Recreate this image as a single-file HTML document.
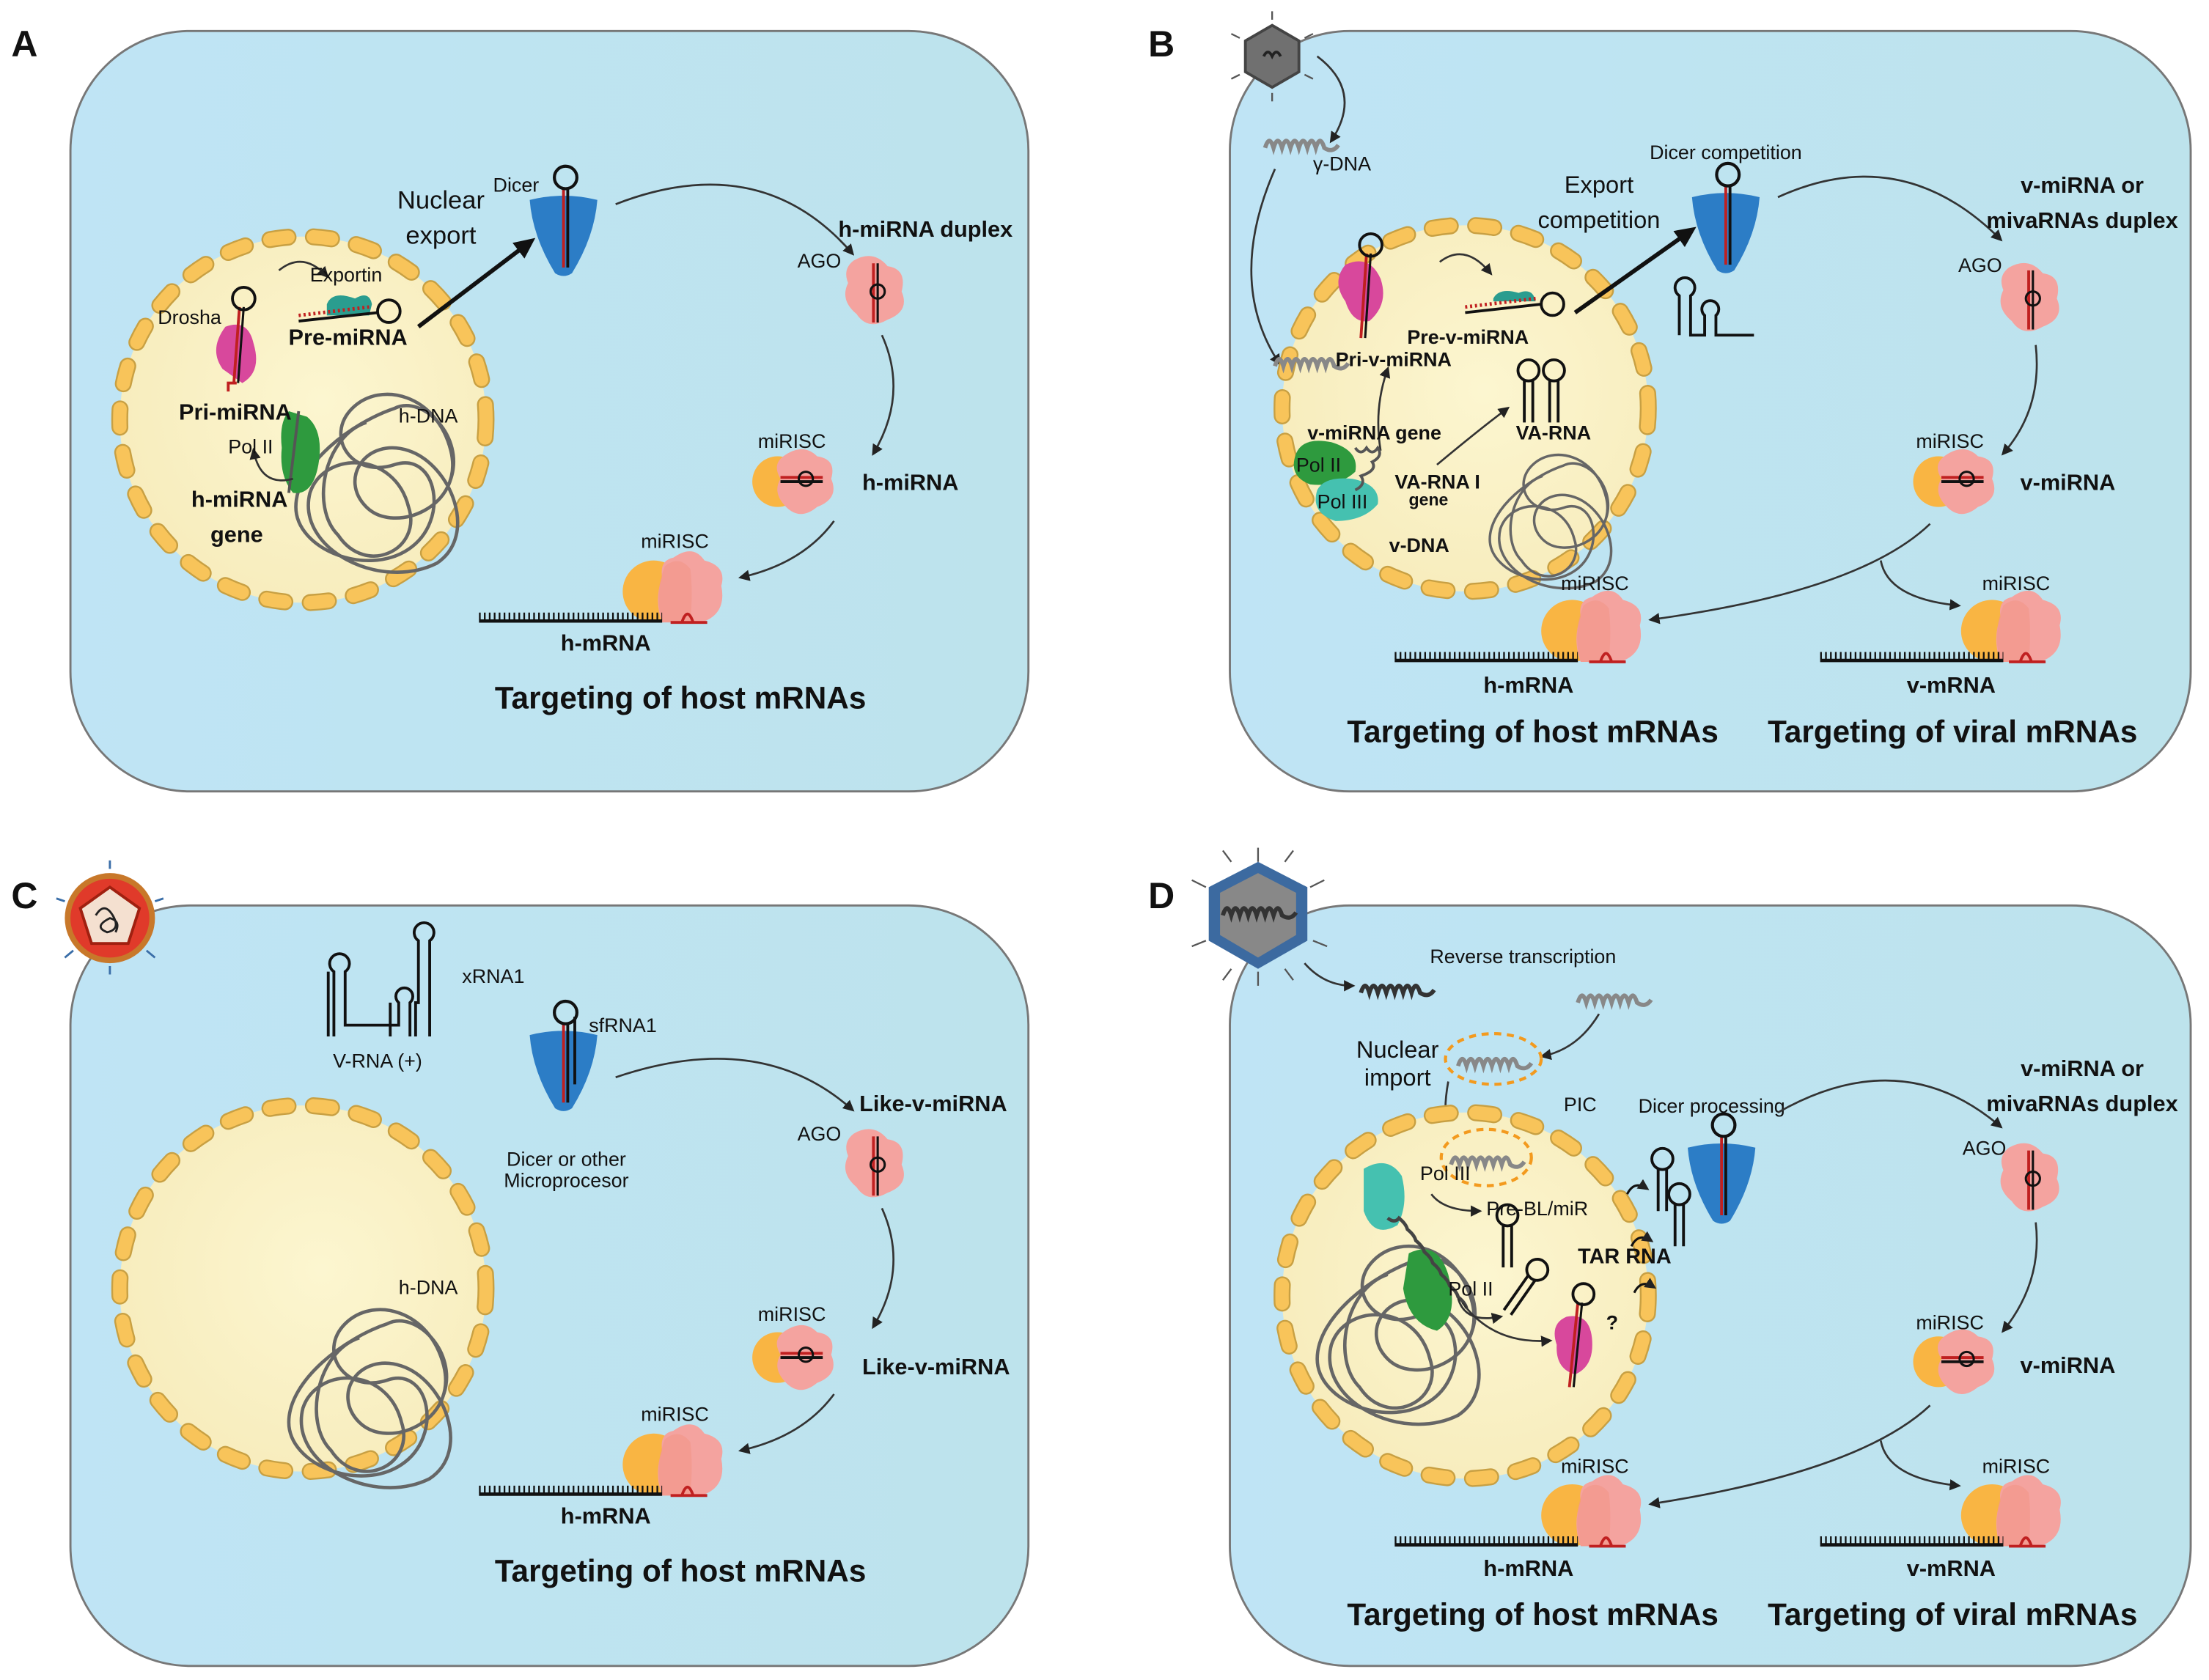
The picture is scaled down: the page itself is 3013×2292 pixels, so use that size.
<!DOCTYPE html>
<html><head><meta charset="utf-8"><style>
html,body{margin:0;padding:0;background:#fff;}
svg{display:block;}
text{font-family:"Liberation Sans",sans-serif;fill:#111;}
.b{font-weight:bold;}
</style></head><body>
<svg width="3013" height="2292" viewBox="0 0 1568 1193" preserveAspectRatio="none" xmlns="http://www.w3.org/2000/svg">
<defs>
<linearGradient id="bg" x1="0" y1="0" x2="1" y2="0"><stop offset="0" stop-color="#bfe4f5"/><stop offset="1" stop-color="#bde3ec"/></linearGradient>
<radialGradient id="nuc" cx="0.55" cy="0.45" r="0.6"><stop offset="0" stop-color="#fcf6d0"/><stop offset="1" stop-color="#f7ecbc"/></radialGradient>
<marker id="ar" markerWidth="8" markerHeight="8" refX="6" refY="4" orient="auto" markerUnits="userSpaceOnUse"><path d="M0,0 L8,4 L0,8 Z" fill="#222"/></marker>
<marker id="arB" markerWidth="16" markerHeight="16" refX="10" refY="8" orient="auto" markerUnits="userSpaceOnUse"><path d="M0,1 L15,8 L0,15 Z" fill="#111"/></marker>
<g id="nucleus">
 <circle r="130" fill="url(#nuc)"/>
 <circle r="130" fill="none" stroke="#c8a043" stroke-width="12" stroke-dasharray="13 18" stroke-linecap="round"/>
 <circle r="130" fill="none" stroke="#f8c45a" stroke-width="9.5" stroke-dasharray="13 18" stroke-linecap="round"/>
</g>
<g id="dicer">
 <path d="M-24,-20 Q0,-26 24,-20 Q22,6 6,32 Q0,36 -6,32 Q-22,6 -24,-20Z" fill="#2c7dc6"/>
 <line x1="0" y1="-28" x2="0" y2="28" stroke="#c02020" stroke-width="2"/>
 <line x1="3" y1="-28" x2="3" y2="28" stroke="#111" stroke-width="2"/>
 <circle cx="1.5" cy="-36" r="8" fill="none" stroke="#111" stroke-width="2.2"/>
</g>
<g id="ago">
 <path d="M-14,-20 Q0,-28 10,-16 Q24,-14 20,2 Q26,16 10,22 Q-4,30 -12,18 Q-24,8 -18,-4 Q-22,-14 -14,-20Z" fill="#f4a39f"/>
 <line x1="0" y1="-18" x2="0" y2="24" stroke="#c02020" stroke-width="2"/>
 <line x1="3" y1="-18" x2="3" y2="24" stroke="#111" stroke-width="1.6"/>
 <circle cx="3" cy="2" r="5" fill="none" stroke="#111" stroke-width="1.6"/>
</g>
<g id="risc">
 <circle cx="-12" cy="2" r="18" fill="#f9b543"/>
 <path d="M-8,-16 Q6,-26 16,-16 Q30,-14 26,0 Q32,14 16,20 Q4,30 -6,20 Q-16,10 -10,0 Q-16,-10 -8,-16Z" fill="#f4a39f"/>
 <line x1="-10" y1="2" x2="20" y2="2" stroke="#111" stroke-width="2"/>
 <line x1="-10" y1="-1" x2="20" y2="-1" stroke="#c02020" stroke-width="2"/>
 <circle cx="8" cy="0" r="5" fill="none" stroke="#111" stroke-width="1.6"/>
</g>
<g id="riscB">
 <circle cx="-14" cy="4" r="22" fill="#f9b543"/>
 <path d="M0,-20 Q14,-30 22,-18 Q38,-14 34,0 Q38,20 20,26 L-8,26 Q-14,10 -8,-6 Q-10,-18 0,-20Z" fill="#f4a39f"/>
 <path d="M-6,-14 Q4,-22 12,-12 Q14,4 12,26 L-8,26 Q-14,6 -6,-14Z" fill="#f29688" opacity="0.6"/>
 <line x1="-2" y1="26" x2="24" y2="26" stroke="#c02020" stroke-width="2"/>
 <path d="M6,26 Q10,14 14,26" fill="none" stroke="#c02020" stroke-width="2"/>
</g>
<g id="mrna">
 <line x1="0" y1="0" x2="130" y2="0" stroke="#111" stroke-width="2.4"/>
 <line x1="0" y1="-3.5" x2="130" y2="-3.5" stroke="#111" stroke-width="5" stroke-dasharray="1.2 2.3"/>
</g>
<g id="hp">
 <line x1="-3" y1="0" x2="-3" y2="-30" stroke="#111" stroke-width="2"/>
 <line x1="3" y1="0" x2="3" y2="-30" stroke="#111" stroke-width="2"/>
 <circle cx="0" cy="-37" r="7.5" fill="none" stroke="#111" stroke-width="2"/>
</g>
<g id="coil"><path d="M0,0 q3,-10 6,0 q3,-10 6,0 q3,-10 6,0 q3,-10 6,0 q3,-10 6,0 q3,-10 6,0 q3,-10 6,0 q6,4 10,-2" fill="none" stroke="#333" stroke-width="3"/></g>
<g id="coilG"><path d="M0,0 q3,-10 6,0 q3,-10 6,0 q3,-10 6,0 q3,-10 6,0 q3,-10 6,0 q3,-10 6,0 q3,-10 6,0 q6,4 10,-2" fill="none" stroke="#888" stroke-width="3"/></g>
<g id="dna">
 <path d="M0,0 C-30,10 -40,60 -20,80 C0,110 40,90 30,60 C20,20 -30,20 -40,50 C-50,90 10,120 50,100 C80,80 60,30 30,20 C0,10 -20,40 0,60 C20,80 70,60 60,20 C50,-20 10,-30 -10,-10 C-30,10 -10,40 20,30 C50,20 60,70 30,90 C0,110 -50,90 -50,60 C-50,30 -10,0 20,-10 C40,-20 70,10 60,40" fill="none" stroke="#666" stroke-width="2.4"/>
</g>
</defs>

<!-- Panels -->
<rect x="50" y="22" width="680" height="540" rx="85" fill="url(#bg)" stroke="#777" stroke-width="1.5"/>
<rect x="873" y="22" width="682" height="540" rx="85" fill="url(#bg)" stroke="#777" stroke-width="1.5"/>
<rect x="50" y="643" width="680" height="540" rx="85" fill="url(#bg)" stroke="#777" stroke-width="1.5"/>
<rect x="873" y="643" width="682" height="540" rx="85" fill="url(#bg)" stroke="#777" stroke-width="1.5"/>

<text x="8" y="40" class="b" font-size="26">A</text>
<text x="815" y="40" class="b" font-size="26">B</text>
<text x="8" y="645" class="b" font-size="26">C</text>
<text x="815" y="645" class="b" font-size="26">D</text>

<!-- ================= PANEL A ================= -->
<use href="#nucleus" x="215" y="298"/>
<use href="#dna" x="260" y="300"/>
<path d="M205,292 Q198,300 200,318 Q198,338 208,350 Q222,352 226,330 Q230,306 218,296 Z" fill="#2e9a3e"/>
<line x1="212" y1="292" x2="205" y2="350" stroke="#555" stroke-width="2"/>
<path d="M158,262 Q148,248 160,232 Q176,226 180,244 Q186,264 172,272 Z" fill="#d8489c"/>
<line x1="170" y1="218" x2="166" y2="272" stroke="#c02020" stroke-width="2"/>
<line x1="173" y1="218" x2="169" y2="272" stroke="#111" stroke-width="1.6"/>
<circle cx="173" cy="212" r="8" fill="none" stroke="#111" stroke-width="2"/>
<path d="M168,272 l-6,0 l0,6" fill="none" stroke="#c02020" stroke-width="2"/>
<path d="M232,216 Q236,206 252,212 Q262,206 264,216 L262,224 L232,224 Z" fill="#2a9d8f"/>
<line x1="212" y1="228" x2="268" y2="222" stroke="#111" stroke-width="2"/>
<line x1="212" y1="224" x2="262" y2="218" stroke="#c02020" stroke-width="2.5" stroke-dasharray="1.5 2"/>
<circle cx="276" cy="221" r="8" fill="none" stroke="#111" stroke-width="2"/>
<path d="M198,192 Q215,178 232,196" fill="none" stroke="#333" stroke-width="1.4" marker-end="url(#ar)"/>
<path d="M208,340 Q185,346 180,320" fill="none" stroke="#333" stroke-width="1.4" marker-end="url(#ar)"/>
<text x="112" y="230" font-size="14">Drosha</text>
<text x="220" y="200" font-size="14">Exportin</text>
<text x="247" y="245" text-anchor="middle" class="b" font-size="16">Pre-miRNA</text>
<text x="167" y="298" text-anchor="middle" class="b" font-size="16">Pri-miRNA</text>
<text x="162" y="322" font-size="14">Pol II</text>
<text x="170" y="360" text-anchor="middle" class="b" font-size="16">h-miRNA</text>
<text x="168" y="385" text-anchor="middle" class="b" font-size="16">gene</text>
<text x="283" y="300" font-size="14">h-DNA</text>
<line x1="297" y1="232" x2="376" y2="172" stroke="#111" stroke-width="3" marker-end="url(#arB)"/>
<text x="313" y="148" text-anchor="middle" font-size="18">Nuclear</text>
<text x="313" y="173" text-anchor="middle" font-size="18">export</text>
<use href="#dicer" x="400" y="162"/>
<text x="350" y="136" font-size="14">Dicer</text>
<path d="M437,145 Q540,105 605,180" fill="none" stroke="#333" stroke-width="1.4" marker-end="url(#ar)"/>
<text x="595" y="168" class="b" font-size="16">h-miRNA duplex</text>
<text x="566" y="190" font-size="14">AGO</text>
<use href="#ago" x="620" y="205"/>
<path d="M626,238 Q645,280 620,322" fill="none" stroke="#333" stroke-width="1.4" marker-end="url(#ar)"/>
<text x="538" y="318" font-size="14">miRISC</text>
<use href="#risc" x="564" y="340"/>
<text x="612" y="348" class="b" font-size="16">h-miRNA</text>
<path d="M592,370 Q570,400 526,410" fill="none" stroke="#333" stroke-width="1.4" marker-end="url(#ar)"/>
<text x="455" y="389" font-size="14">miRISC</text>
<use href="#riscB" x="478" y="416"/>
<use href="#mrna" x="340" y="441"/>
<text x="430" y="462" text-anchor="middle" class="b" font-size="16">h-mRNA</text>
<text x="483" y="503" text-anchor="middle" class="b" font-size="22">Targeting of host mRNAs</text>

<!-- ================= PANEL B ================= -->
<polygon points="903,18 922,29 922,51 903,62 884,51 884,29" fill="#707070" stroke="#444" stroke-width="2"/>
<g stroke="#555" stroke-width="1.2">
<line x1="903" y1="14" x2="903" y2="8"/><line x1="926" y1="27" x2="932" y2="24"/><line x1="926" y1="53" x2="932" y2="56"/><line x1="903" y1="66" x2="903" y2="72"/><line x1="880" y1="53" x2="874" y2="56"/><line x1="880" y1="27" x2="874" y2="24"/></g>
<path d="M897,40 q3,-6 6,0 q3,-6 6,0" fill="none" stroke="#222" stroke-width="2"/>
<path d="M935,40 Q968,65 945,100" fill="none" stroke="#333" stroke-width="1.4" marker-end="url(#ar)"/>
<use href="#coilG" x="898" y="105"/>
<text x="932" y="121" font-size="14">γ-DNA</text>
<path d="M905,120 Q870,200 908,258" fill="none" stroke="#333" stroke-width="1.4" marker-end="url(#ar)"/>
<use href="#nucleus" x="1040" y="290"/>
<use href="#coilG" x="905" y="260"/>
<g transform="translate(1095,338) scale(0.75)"><use href="#dna"/></g>
<path d="M955,214 Q945,200 955,188 Q972,180 980,198 Q986,216 972,228 Q960,230 955,214Z" fill="#d8489c"/>
<line x1="970" y1="180" x2="966" y2="240" stroke="#c02020" stroke-width="2"/>
<line x1="973" y1="180" x2="969" y2="240" stroke="#111" stroke-width="1.6"/>
<circle cx="973" cy="174" r="8" fill="none" stroke="#111" stroke-width="2"/>
<path d="M1060,212 Q1064,204 1078,208 Q1088,204 1090,214 L1060,214 Z" fill="#2a9d8f"/>
<line x1="1040" y1="222" x2="1094" y2="216" stroke="#111" stroke-width="2"/>
<line x1="1040" y1="218" x2="1090" y2="212" stroke="#c02020" stroke-width="2.5" stroke-dasharray="1.5 2"/>
<circle cx="1102" cy="216" r="8" fill="none" stroke="#111" stroke-width="2"/>
<path d="M1022,186 Q1040,172 1058,194" fill="none" stroke="#333" stroke-width="1.4" marker-end="url(#ar)"/>
<text x="1042" y="244" text-anchor="middle" class="b" font-size="14">Pre-v-miRNA</text>
<text x="948" y="260" class="b" font-size="14">Pri-v-miRNA</text>
<path d="M980,320 Q975,290 985,262" fill="none" stroke="#333" stroke-width="1.4" marker-end="url(#ar)"/>
<text x="928" y="312" class="b" font-size="14">v-miRNA gene</text>
<path d="M1020,330 Q1050,305 1070,290" fill="none" stroke="#333" stroke-width="1.4" marker-end="url(#ar)"/>
<use href="#hp" x="1085" y="300"/>
<use href="#hp" x="1103" y="300"/>
<text x="1076" y="312" class="b" font-size="14">VA-RNA</text>
<path d="M920,322 Q925,310 945,314 Q965,320 962,335 Q950,346 930,344 Q914,338 920,322Z" fill="#2e9a3e"/>
<text x="920" y="335" font-size="14">Pol II</text>
<path d="M935,348 Q940,338 960,340 Q980,344 978,358 Q968,370 948,370 Q930,364 935,348Z" fill="#45c1b0"/>
<text x="935" y="361" font-size="14">Pol III</text>
<path d="M962,318 q4,6 8,0 q4,6 8,0 q4,6 -4,10 q4,6 -8,10 q4,6 -4,10" fill="none" stroke="#555" stroke-width="2"/>
<text x="990" y="347" class="b" font-size="14">VA-RNA I</text>
<text x="1000" y="359" class="b" font-size="12">gene</text>
<text x="986" y="392" class="b" font-size="14">v-DNA</text>
<line x1="1118" y1="222" x2="1200" y2="164" stroke="#111" stroke-width="3" marker-end="url(#arB)"/>
<text x="1135" y="137" text-anchor="middle" font-size="17">Export</text>
<text x="1135" y="162" text-anchor="middle" font-size="17">competition</text>
<use href="#dicer" x="1225" y="160"/>
<text x="1225" y="113" text-anchor="middle" font-size="14">Dicer competition</text>
<path d="M1192,238 L1192,210 a7,7 0 1 1 8,0 L1200,238 L1210,238 L1210,224 a6,6 0 1 1 8,0 L1218,238 L1245,238" fill="none" stroke="#111" stroke-width="2"/>
<path d="M1262,140 Q1350,100 1420,170" fill="none" stroke="#333" stroke-width="1.4" marker-end="url(#ar)"/>
<text x="1478" y="137" text-anchor="middle" class="b" font-size="16">v-miRNA or</text>
<text x="1478" y="162" text-anchor="middle" class="b" font-size="16">mivaRNAs duplex</text>
<text x="1390" y="193" font-size="14">AGO</text>
<use href="#ago" x="1440" y="210"/>
<path d="M1445,245 Q1450,290 1422,322" fill="none" stroke="#333" stroke-width="1.4" marker-end="url(#ar)"/>
<text x="1360" y="318" font-size="14">miRISC</text>
<use href="#risc" x="1388" y="340"/>
<text x="1434" y="348" class="b" font-size="16">v-miRNA</text>
<path d="M1370,372 Q1320,420 1172,440" fill="none" stroke="#333" stroke-width="1.4" marker-end="url(#ar)"/>
<path d="M1335,398 Q1340,425 1390,430" fill="none" stroke="#333" stroke-width="1.4" marker-end="url(#ar)"/>
<text x="1108" y="419" font-size="14">miRISC</text>
<use href="#riscB" x="1130" y="444"/>
<use href="#mrna" x="990" y="469"/>
<text x="1085" y="492" text-anchor="middle" class="b" font-size="16">h-mRNA</text>
<text x="1407" y="419" font-size="14">miRISC</text>
<use href="#riscB" x="1428" y="444"/>
<use href="#mrna" x="1292" y="469"/>
<text x="1385" y="492" text-anchor="middle" class="b" font-size="16">v-mRNA</text>
<text x="1088" y="527" text-anchor="middle" class="b" font-size="22">Targeting of host mRNAs</text>
<text x="1386" y="527" text-anchor="middle" class="b" font-size="22">Targeting of viral mRNAs</text>

<!-- ================= PANEL C ================= -->
<g stroke="#3a6ea8" stroke-width="1.5"><line x1="78" y1="617" x2="78" y2="611"/><line x1="110" y1="640" x2="116" y2="638"/><line x1="104" y1="675" x2="110" y2="680"/><line x1="52" y1="675" x2="46" y2="680"/><line x1="46" y1="640" x2="40" y2="638"/><line x1="78" y1="686" x2="78" y2="692"/></g>
<circle cx="78" cy="652" r="32" fill="#c8782a"/>
<circle cx="78" cy="652" r="28" fill="#e03a2a"/>
<polygon points="78,630 99,645 91,670 65,670 57,645" fill="#f4e0d0" stroke="#a02010" stroke-width="2"/>
<path d="M68,650 q6,-10 12,0 q6,10 -4,12 q-10,-4 2,-10 q8,2 4,10" fill="none" stroke="#222" stroke-width="1.5"/>
<path d="M237,736 L237,690 a7,7 0 1 1 8,0 L245,728 L283,728 L283,712 a6,6 0 1 1 8,0 L291,736" fill="none" stroke="#111" stroke-width="2"/>
<path d="M233,736 L233,690 M277,736 L277,712 M295,736 L295,712 L297,712 L297,668 a7,7 0 1 1 8,0 L305,736" fill="none" stroke="#111" stroke-width="2"/>
<text x="328" y="698" font-size="14">xRNA1</text>
<text x="268" y="758" text-anchor="middle" font-size="14">V-RNA (+)</text>
<use href="#dicer" x="400" y="755"/>
<line x1="408" y1="722" x2="408" y2="770" stroke="#111" stroke-width="2"/>
<text x="418" y="733" font-size="14">sfRNA1</text>
<text x="402" y="828" text-anchor="middle" font-size="14">Dicer or other</text>
<text x="402" y="843" text-anchor="middle" font-size="14">Microprocesor</text>
<path d="M437,765 Q540,730 605,788" fill="none" stroke="#333" stroke-width="1.4" marker-end="url(#ar)"/>
<text x="610" y="789" class="b" font-size="16">Like-v-miRNA</text>
<text x="566" y="810" font-size="14">AGO</text>
<use href="#ago" x="620" y="825"/>
<path d="M626,858 Q645,900 620,942" fill="none" stroke="#333" stroke-width="1.4" marker-end="url(#ar)"/>
<text x="538" y="938" font-size="14">miRISC</text>
<use href="#risc" x="564" y="962"/>
<text x="612" y="976" class="b" font-size="16">Like-v-miRNA</text>
<path d="M592,990 Q570,1020 526,1030" fill="none" stroke="#333" stroke-width="1.4" marker-end="url(#ar)"/>
<text x="455" y="1009" font-size="14">miRISC</text>
<use href="#riscB" x="478" y="1036"/>
<use href="#mrna" x="340" y="1061"/>
<text x="430" y="1082" text-anchor="middle" class="b" font-size="16">h-mRNA</text>
<text x="483" y="1123" text-anchor="middle" class="b" font-size="22">Targeting of host mRNAs</text>
<use href="#nucleus" x="215" y="915"/>
<use href="#dna" x="255" y="950"/>
<text x="283" y="919" font-size="14">h-DNA</text>

<!-- ================= PANEL D ================= -->
<g stroke="#555" stroke-width="1.2">
<line x1="893" y1="612" x2="893" y2="602"/><line x1="930" y1="630" x2="940" y2="625"/><line x1="932" y1="668" x2="942" y2="672"/><line x1="893" y1="690" x2="893" y2="700"/><line x1="856" y1="668" x2="846" y2="672"/><line x1="856" y1="630" x2="846" y2="625"/><line x1="912" y1="612" x2="918" y2="604"/><line x1="874" y1="612" x2="868" y2="604"/><line x1="912" y1="688" x2="918" y2="696"/><line x1="874" y1="688" x2="868" y2="696"/></g>
<polygon points="893,612 928,630 928,668 893,688 858,668 858,630" fill="#3c6aa0"/>
<polygon points="893,620 920,634 920,664 893,680 866,664 866,634" fill="#888"/>
<use href="#coil" x="868" y="650"/>
<path d="M926,684 Q940,700 960,700" fill="none" stroke="#333" stroke-width="1.4" marker-end="url(#ar)"/>
<use href="#coil" x="966" y="705"/>
<text x="1015" y="684" font-size="14">Reverse transcription</text>
<use href="#coilG" x="1120" y="712"/>
<path d="M1135,720 Q1120,745 1095,750" fill="none" stroke="#333" stroke-width="1.4" marker-end="url(#ar)"/>
<text x="992" y="751" text-anchor="middle" font-size="17">Nuclear</text>
<text x="992" y="771" text-anchor="middle" font-size="17">import</text>
<ellipse cx="1060" cy="752" rx="34" ry="18" fill="none" stroke="#f39a1e" stroke-width="2.2" stroke-dasharray="5 4"/>
<use href="#coilG" x="1035" y="757"/>
<path d="M1028,768 Q1024,790 1028,802" fill="none" stroke="#333" stroke-width="1.4" marker-end="url(#ar)"/>
<use href="#nucleus" x="1040" y="920"/>
<ellipse cx="1055" cy="822" rx="32" ry="20" fill="none" stroke="#f39a1e" stroke-width="2.2" stroke-dasharray="5 4"/>
<use href="#coilG" x="1030" y="827"/>
<text x="1110" y="789" font-size="14">PIC</text>
<text x="1215" y="790" text-anchor="middle" font-size="14">Dicer processing</text>
<use href="#dna" x="985" y="905"/>
<path d="M968,830 Q985,820 995,835 Q1000,855 992,870 Q975,880 968,860 Z" fill="#45c1b0"/>
<path d="M1000,890 Q1020,880 1028,905 Q1036,935 1020,945 Q1000,940 996,915Z" fill="#2e9a3e"/>
<path d="M985,865 q5,4 8,0 q5,4 6,8 q5,4 6,8 q5,4 6,8 q5,4 6,8 q5,4 6,8 q5,4 6,8 q5,4 6,8 q5,4 6,8" fill="none" stroke="#444" stroke-width="2.4"/>
<text x="1008" y="838" font-size="14">Pol III</text>
<path d="M1016,848 Q1025,860 1050,860" fill="none" stroke="#333" stroke-width="1.4" marker-end="url(#ar)"/>
<text x="1055" y="863" font-size="14">Pre-BL/miR</text>
<use href="#hp" x="1070" y="900"/>
<text x="1120" y="897" class="b" font-size="15">TAR RNA</text>
<g transform="translate(1070,932) rotate(35)"><use href="#hp"/></g>
<text x="1028" y="920" font-size="14">Pol II</text>
<path d="M1035,922 Q1040,940 1065,935" fill="none" stroke="#333" stroke-width="1.4" marker-end="url(#ar)"/>
<path d="M1038,925 Q1060,955 1100,952" fill="none" stroke="#333" stroke-width="1.4" marker-end="url(#ar)"/>
<path d="M1105,955 Q1100,940 1112,935 Q1128,932 1130,950 Q1132,970 1118,976 Q1104,972 1105,955Z" fill="#d8489c"/>
<line x1="1120" y1="925" x2="1114" y2="985" stroke="#c02020" stroke-width="2"/>
<line x1="1123" y1="925" x2="1117" y2="985" stroke="#111" stroke-width="1.6"/>
<circle cx="1124" cy="919" r="7.5" fill="none" stroke="#111" stroke-width="2"/>
<text x="1140" y="944" class="b" font-size="14">?</text>
<path d="M1155,848 q5,-10 14,-4" fill="none" stroke="#111" stroke-width="1.6" marker-end="url(#ar)"/>
<path d="M1158,885 q5,-10 14,-4" fill="none" stroke="#111" stroke-width="1.6" marker-end="url(#ar)"/>
<path d="M1160,918 q5,-10 14,-4" fill="none" stroke="#111" stroke-width="1.6" marker-end="url(#ar)"/>
<use href="#hp" x="1180" y="860"/>
<use href="#hp" x="1192" y="885"/>
<use href="#dicer" x="1222" y="835"/>
<path d="M1262,790 Q1350,740 1420,800" fill="none" stroke="#333" stroke-width="1.4" marker-end="url(#ar)"/>
<text x="1478" y="764" text-anchor="middle" class="b" font-size="16">v-miRNA or</text>
<text x="1478" y="789" text-anchor="middle" class="b" font-size="16">mivaRNAs duplex</text>
<text x="1393" y="820" font-size="14">AGO</text>
<use href="#ago" x="1440" y="835"/>
<path d="M1445,868 Q1450,910 1422,945" fill="none" stroke="#333" stroke-width="1.4" marker-end="url(#ar)"/>
<text x="1360" y="944" font-size="14">miRISC</text>
<use href="#risc" x="1388" y="965"/>
<text x="1434" y="975" class="b" font-size="16">v-miRNA</text>
<path d="M1370,998 Q1320,1045 1172,1068" fill="none" stroke="#333" stroke-width="1.4" marker-end="url(#ar)"/>
<path d="M1335,1023 Q1340,1050 1390,1055" fill="none" stroke="#333" stroke-width="1.4" marker-end="url(#ar)"/>
<text x="1108" y="1046" font-size="14">miRISC</text>
<use href="#riscB" x="1130" y="1072"/>
<use href="#mrna" x="990" y="1097"/>
<text x="1085" y="1119" text-anchor="middle" class="b" font-size="16">h-mRNA</text>
<text x="1407" y="1046" font-size="14">miRISC</text>
<use href="#riscB" x="1428" y="1072"/>
<use href="#mrna" x="1292" y="1097"/>
<text x="1385" y="1119" text-anchor="middle" class="b" font-size="16">v-mRNA</text>
<text x="1088" y="1154" text-anchor="middle" class="b" font-size="22">Targeting of host mRNAs</text>
<text x="1386" y="1154" text-anchor="middle" class="b" font-size="22">Targeting of viral mRNAs</text>
</svg>
</body></html>
